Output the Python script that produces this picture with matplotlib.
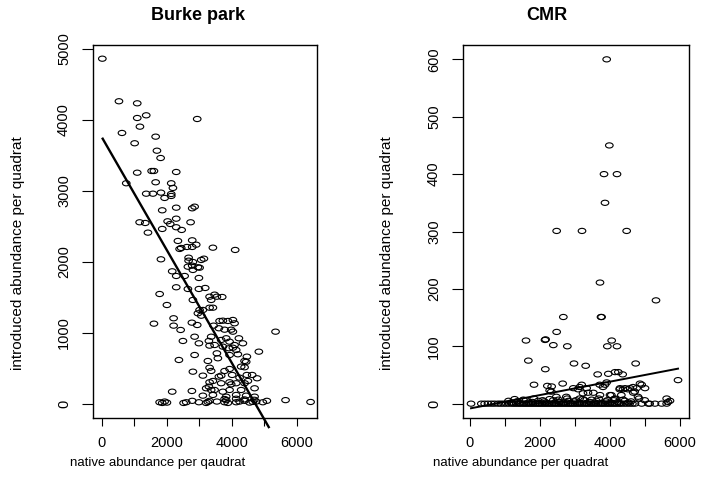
import matplotlib
matplotlib.use('Agg')
import matplotlib.pyplot as plt
from matplotlib.path import Path
from matplotlib.transforms import Affine2D

plt.rcParams['font.family'] = ['Liberation Sans', 'DejaVu Sans']

# ---------------- data: Burke park ----------------
burke_native = [
    20, 532, 1095, 1095, 1372, 2942, 1178, 625, 1662, 1015, 1702, 1815, 1095, 1538, 1609, 2296,
    757, 1662, 2142, 2194, 1372, 1578, 1825, 2142, 2142, 1938, 2296, 2788, 2862, 1865, 1169, 1342,
    2031, 2111, 2296, 2738, 1425, 1865, 2296, 2462, 2348, 2788, 2400, 2449, 2625, 2788, 2911, 3425,
    4111, 1825, 2677, 2677, 2809, 3065, 3148, 2655, 2788, 2963, 3015, 2809, 2172, 2296, 2554, 2994,
    2296, 2655, 2994, 3188, 1785, 3323, 3477, 3548, 3711,
    2809, 3372, 2009, 3015, 3117, 3323, 3425, 2963, 3065, 2215, 1609, 2215, 2431, 2778, 2942, 3631,
    3732, 3886, 4040, 4092, 3446, 3609, 3785, 3988, 4040, 5354, 2502, 2862, 2994, 3302, 3372, 3477,
    3680, 3834, 3938, 4092, 4225, 4348, 3323, 3732, 3917, 4040, 4142, 4840, 2862, 3548, 3578, 3938,
    4194, 4471, 2378, 3271, 4400, 4450, 3323, 3372, 3785, 3938, 4295, 4400, 2809, 3117, 3609, 3680,
    4018, 4246, 4471, 4634, 4788, 3323, 3425, 3302, 3372, 3680, 3938, 3988, 4142, 4400, 4502, 4708,
    4295, 3218, 3477, 3732, 3938, 2172, 2778, 3117, 3425, 3834, 4142, 4449, 4708,
    1785, 1865, 1938, 2009, 2523, 2603, 2788, 2994, 3218, 3271, 3323, 3548, 3785, 3834, 3886, 4142,
    4246, 4400, 4554, 4655, 4757, 4963, 5086, 5662, 6433, 3785, 4142, 4400, 4700,
]
burke_introduced = [
    4863, 4263, 4234, 4027, 4065, 4013, 3905, 3816, 3764, 3671, 3566, 3463, 3256, 3280, 3280, 3266,
    3107, 3121, 3107, 3041, 2960, 2960, 2975, 2956, 2928, 2900, 2763, 2754, 2777, 2726, 2557, 2547,
    2571, 2533, 2608, 2557, 2411, 2463, 2487, 2449, 2294, 2303, 2181, 2195, 2209, 2209, 2241, 2199,
    2167, 2035, 2058, 2016, 1997, 2026, 2044, 1931, 1945, 1923, 1917, 1885, 1866, 1800, 1800, 1772,
    1641, 1617, 1617, 1631, 1546, 1508, 1537, 1508, 1504,
    1462, 1462, 1391, 1321, 1321, 1353, 1353, 1274, 1240, 1204, 1128, 1100, 1039, 1142, 1109, 1166,
    1170, 1166, 1180, 1133, 1100, 1063, 1043, 1043, 1015, 1015, 884, 944, 851, 884, 944, 827,
    898, 922, 874, 827, 922, 851, 818, 804, 781, 789, 757, 733, 686, 710, 640, 686,
    696, 663, 616, 602, 602, 590, 507, 461, 461, 489, 522, 513, 451, 395, 381, 395,
    405, 367, 405, 405, 358, 302, 320, 240, 193, 288, 302, 273, 288, 288, 320, 217,
    193, 217, 193, 169, 193, 169, 179, 113, 123, 99, 123, 113, 99,
    20, 10, 30, 15, 10, 20, 40, 20, 10, 25, 40, 30, 20, 50, 10, 20,
    30, 40, 15, 25, 30, 20, 40, 50, 24, 66, 70, 60, 55,
]
burke_fit_x = [31, 5145]
burke_fit_y = [3735, -330]

# ---------------- data: CMR ----------------
cmr_native = [
    3905, 3981, 3829, 4200, 3857, 2476, 3200, 4476, 3714, 5314, 2667, 3743, 3760, 2476, 1600, 2143,
    2160, 2381, 2781, 4048, 3924, 4200, 1667, 2152, 2971, 3305, 4733, 3648, 3952, 4143, 4238, 4362,
    5943, 1829, 2210, 2333, 2648, 2952, 3190, 3333, 3524, 3714, 3905, 3857, 4286, 4429, 4571, 4667,
    4762, 4857, 4905, 5000, 4829, 4000, 4143, 5619, 5714,
    2276, 2324, 3086, 3133, 3229, 3371, 3705, 3800, 4276, 4371, 4514, 4657, 4705, 4038, 4324, 4800,
    4991, 5657, 2467, 2752, 3133,
    30, 324, 419, 514, 610, 700, 800, 880, 960, 1040, 1120, 1200, 1260, 1320, 1380, 1440,
    1500, 1550, 1600, 1650, 1700, 1750, 1800, 1850, 1900, 1950, 2000, 2050, 2100, 2150, 2200, 2250,
    2300, 2350, 2400, 2450, 2500, 2550, 2600, 2650, 2700, 2750, 2800, 2850, 2900, 2950, 3000, 3050,
    3100, 3150, 3200, 3250, 3300, 3350, 3400, 3450, 3500, 3550, 3600, 3650, 3700, 3750, 3800, 3850,
    3900, 3950, 4000, 4050, 4100, 4150, 4200, 4260, 4320, 4400, 4480, 4560, 4640, 4714, 4905, 5095,
    5133, 5286, 5476, 5619,
    1100, 1350, 1600, 1780, 1950, 2120, 2380, 2560, 2820, 2990, 3270, 3420, 3610, 3880, 4110, 4230,
    4420, 4600,
    1175, 1275, 1425, 1525, 1675, 1825, 1975, 2075, 2175, 2275, 2425, 2525, 2675, 2775, 2875, 3025,
    3125, 3225, 3325, 3475, 3575, 3675, 3775, 3925, 4025, 4125, 4275, 4375, 4525,
]
cmr_introduced = [
    600, 450, 400, 400, 350, 301, 301, 301, 211, 180, 151, 151, 151, 125, 110, 111,
    112, 102, 100, 110, 100, 100, 75, 60, 70, 66, 70, 51, 52, 55, 55, 51,
    41, 33, 31, 30, 35, 27, 33, 27, 19, 15, 37, 33, 27, 27, 27, 19,
    27, 35, 33, 27, 9, 15, 9, 9, 5,
    23, 21, 25, 29, 18, 19, 33, 29, 25, 25, 25, 29, 21, 15, 15, 12,
    6, 3, 12, 12, 9,
    0, 0, 0, 0, 0, 0, 0, 0, 0, 0, 0, 0, 0, 0, 0, 0,
    0, 0, 0, 0, 0, 0, 0, 0, 0, 0, 0, 0, 0, 0, 0, 0,
    0, 0, 0, 0, 0, 0, 0, 0, 0, 0, 0, 0, 0, 0, 0, 0,
    0, 0, 0, 0, 0, 0, 0, 0, 0, 0, 0, 0, 0, 0, 0, 0,
    0, 0, 0, 0, 0, 0, 0, 0, 0, 0, 0, 0, 0, 0, 0, 0,
    0, 0, 0, 0,
    5, 4, 6, 3, 5, 4, 6, 3, 5, 4, 6, 3, 5, 4, 6, 3,
    5, 4,
    2, 8, 1, 7, 2, 9, 1, 6, 2, 8, 1, 7, 2, 9, 1, 6,
    2, 8, 1, 7, 2, 9, 1, 6, 2, 8, 1, 7, 2,
]
cmr_fit_x = [30, 5943]
cmr_fit_y = [-8, 61]

x_ticks = [0, 1000, 2000, 3000, 4000, 5000, 6000]
x_ticklabels = ['0', '', '2000', '', '4000', '', '6000']
burke_yticks = [0, 1000, 2000, 3000, 4000, 5000]
cmr_yticks = [0, 100, 200, 300, 400, 500, 600]

# ---------------- layout ----------------
W, H = 713, 488
fig = plt.figure(figsize=(W / 100, H / 100), dpi=100)


def axrect(l, t, r, b):
    return [l / W, 1 - b / H, (r - l) / W, (b - t) / H]


ax1 = fig.add_axes(axrect(93.3, 45, 317.3, 418))
ax2 = fig.add_axes(axrect(463.3, 45, 689, 418))

ellipse = Path.unit_circle().transformed(Affine2D().scale(1.0, 0.68))


def style(ax, yticks, title, tx, xlabel, xlx):
    ax.set_xticks(x_ticks)
    ax.set_xticklabels(x_ticklabels)
    ax.set_yticks(yticks)
    ax.set_yticklabels([str(v) for v in yticks])
    ax.tick_params(axis='x', length=5.8, width=0.8, pad=7, labelsize=10.5)
    ax.tick_params(axis='y', length=8, width=0.8, pad=8, labelsize=10.5, labelrotation=90)
    for lbl in ax.get_yticklabels():
        lbl.set_va('center')
    for sp in ax.spines.values():
        sp.set_linewidth(1.0)
        sp.set_color('black')
    ax.set_title(title, x=tx, y=1.08, pad=0, fontsize=13, fontweight='bold', va='center')
    ax.set_xlabel(xlabel, fontsize=9.5, va='center')
    ax.xaxis.set_label_coords(xlx, -0.1206)
    ax.set_ylabel('introduced abundance per quadrat', fontsize=11, va='center')
    ax.yaxis.set_label_coords(-0.336, 0.442)


ax1.scatter(burke_native, burke_introduced, s=30, marker=ellipse,
            facecolors='none', edgecolors='black', linewidths=0.8)
ax1.plot(burke_fit_x, burke_fit_y, color='black', lw=1.7, clip_on=False)
ax1.set_xlim(-258, 6640)
ax1.set_ylim(-202, 5056)
style(ax1, burke_yticks, 'Burke park', 0.467, 'native abundance per qaudrat', 0.289)

ax2.scatter(cmr_native, cmr_introduced, s=30, marker=ellipse,
            facecolors='none', edgecolors='black', linewidths=0.8)
ax2.plot(cmr_fit_x, cmr_fit_y, color='black', lw=1.4)
ax2.set_xlim(-191, 6257)
ax2.set_ylim(-25, 625)
style(ax2, cmr_yticks, 'CMR', 0.371, 'native abundance per quadrat', 0.256)

fig.savefig('out.png', dpi=100)
